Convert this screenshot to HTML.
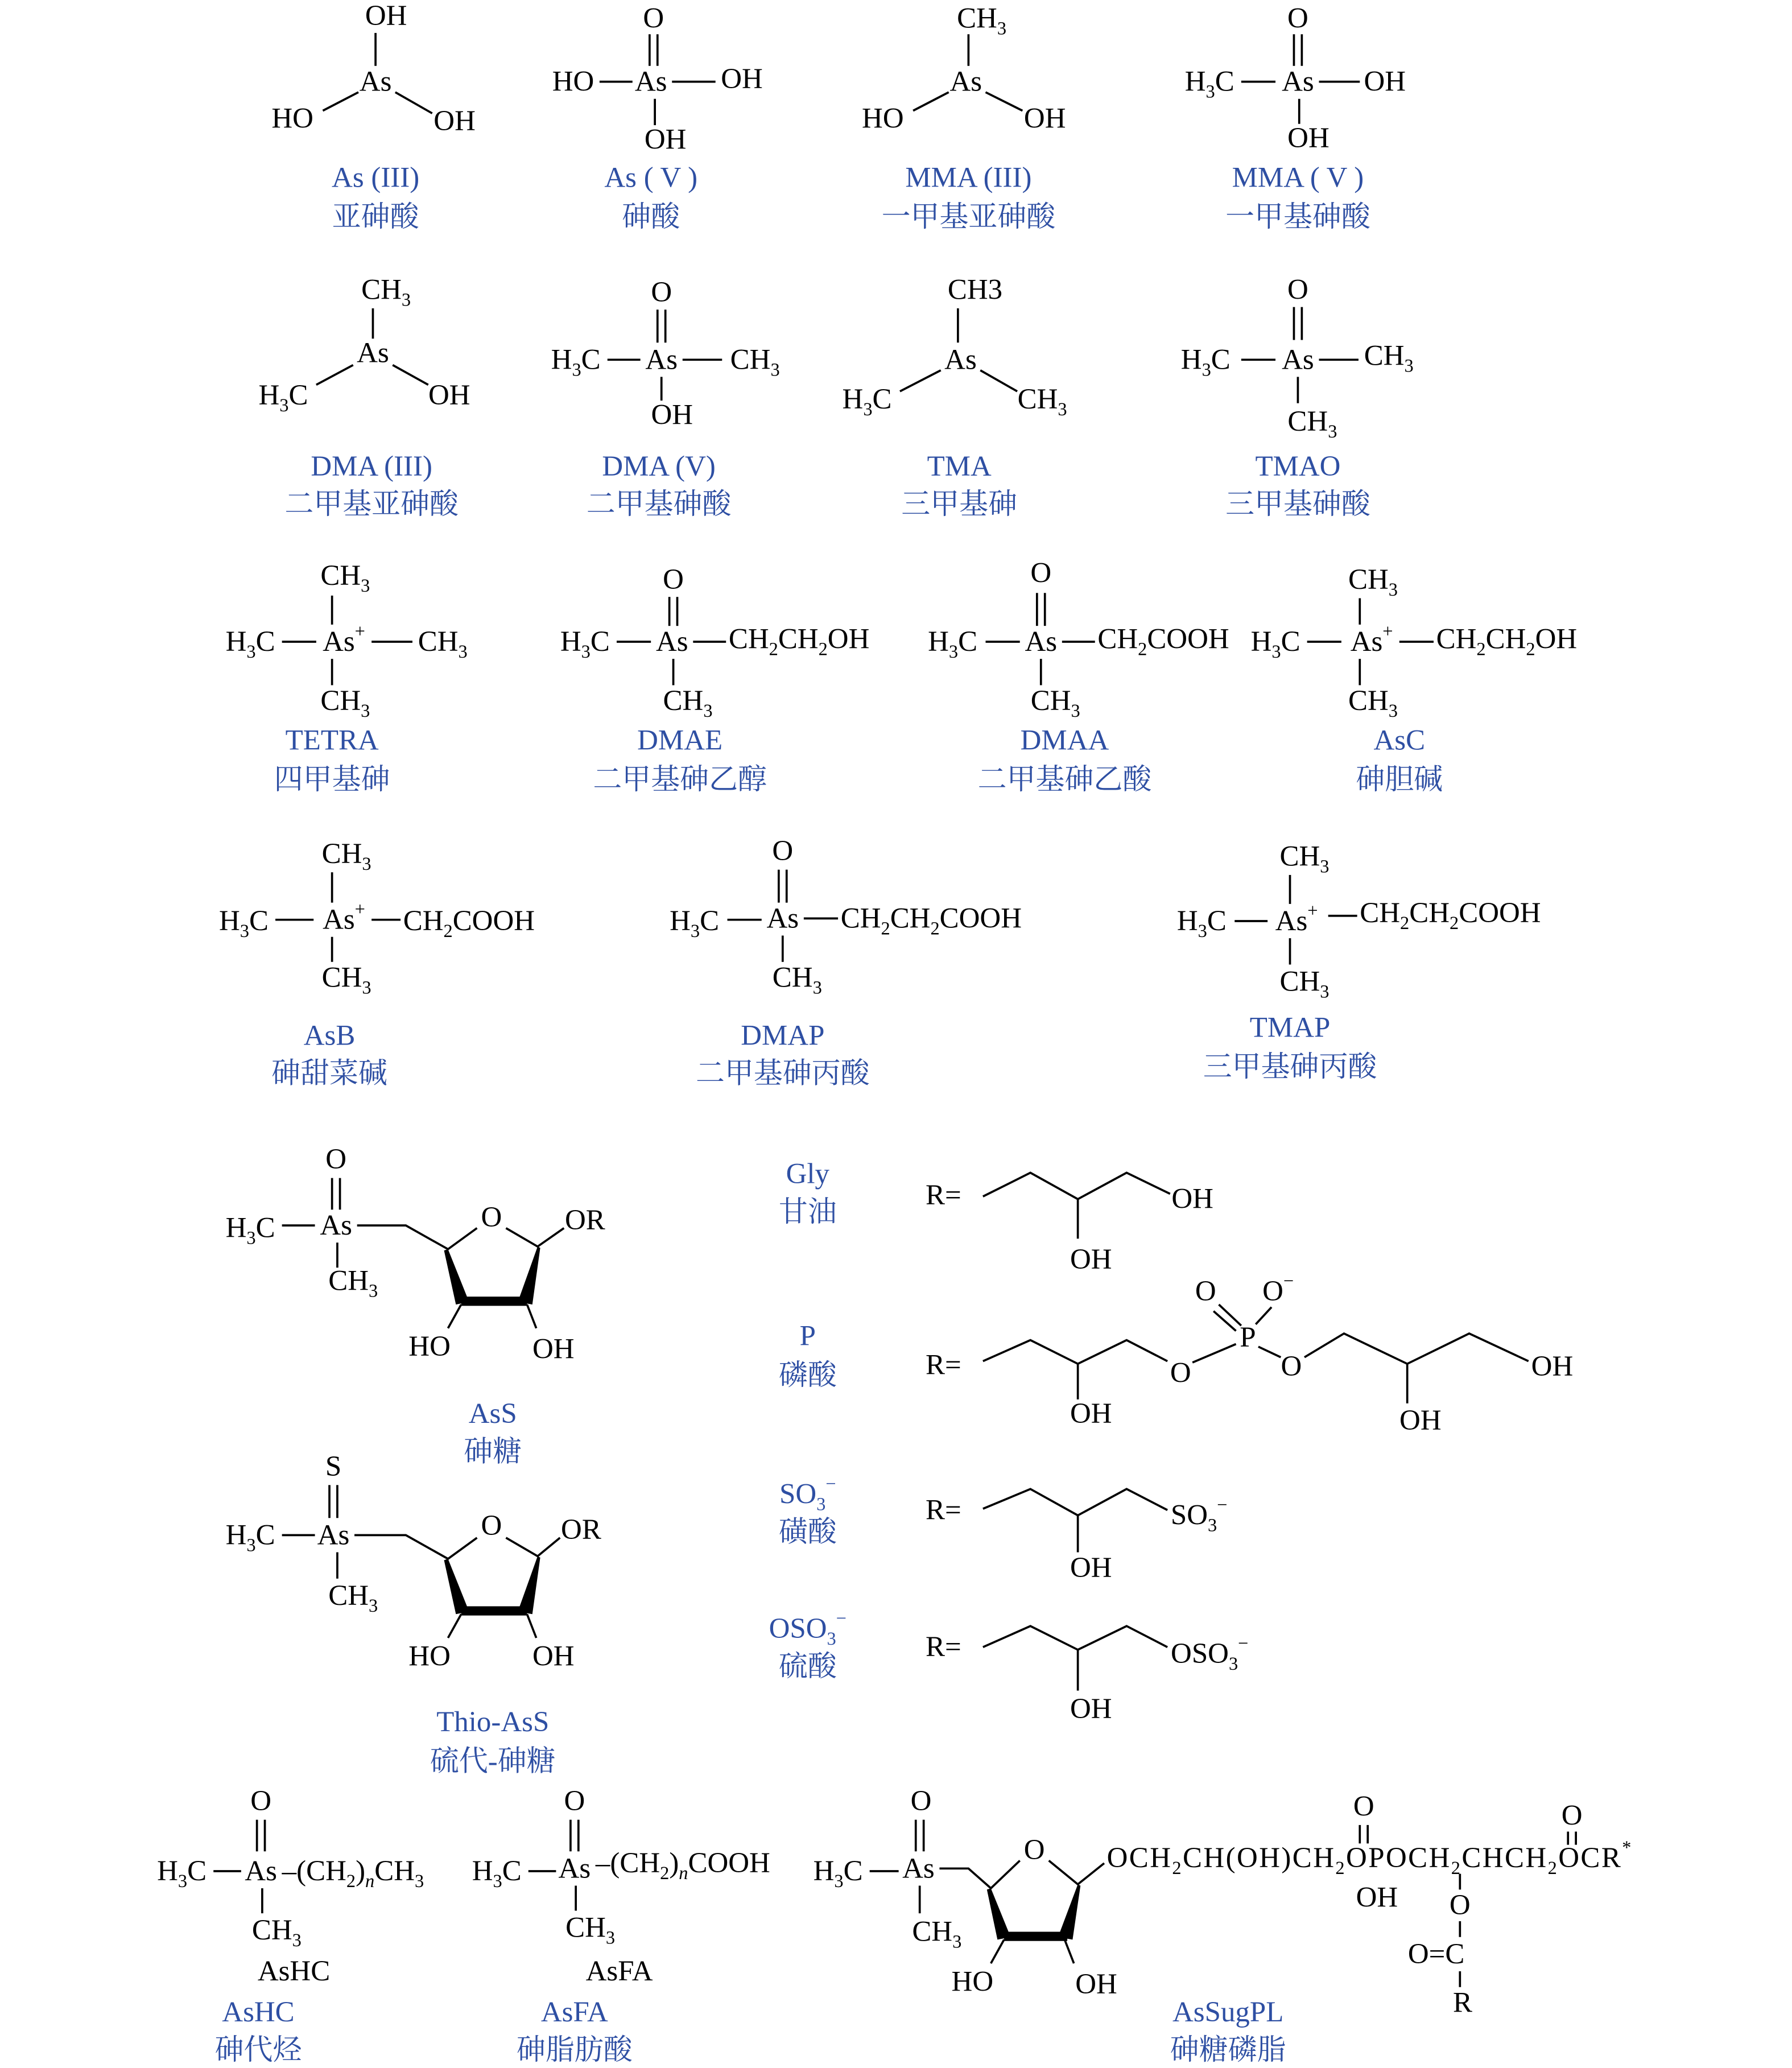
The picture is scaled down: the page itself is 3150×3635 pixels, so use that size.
<!DOCTYPE html>
<html><head><meta charset="utf-8"><style>
html,body{margin:0;padding:0;background:#fff}
svg{display:block}
text{font-family:"Liberation Serif","Noto Serif CJK SC",serif;font-size:22px;fill:#000;dominant-baseline:central;text-anchor:middle}
.b{fill:#2e4fa3}
.l{text-anchor:start}
line,polyline{stroke:#000;stroke-width:1.6;fill:none}
</style></head><body>
<svg width="3150" height="3635" viewBox="0 0 1360 1569.4" preserveAspectRatio="none" xmlns="http://www.w3.org/2000/svg">
<!-- Row 1 -->
<text x="293" y="12">OH</text><line x1="285" y1="25" x2="285" y2="50"/><text x="285" y="62">As</text>
<text x="222" y="90">HO</text><text x="345" y="92">OH</text>
<line x1="272" y1="70" x2="245" y2="84"/><line x1="300" y1="70" x2="328" y2="86"/>
<text class="b" x="285" y="135">As (III)</text><text class="b" x="285" y="165">亚砷酸</text>

<text x="496" y="14">O</text><line x1="493" y1="26" x2="493" y2="50"/><line x1="499" y1="26" x2="499" y2="50"/>
<text x="435" y="62">HO</text><line x1="455" y1="62" x2="480" y2="62"/><text x="494" y="62">As</text>
<line x1="510" y1="62" x2="543" y2="62"/><text x="563" y="60">OH</text>
<line x1="497" y1="75" x2="497" y2="95"/><text x="505" y="106">OH</text>
<text class="b" x="494" y="135">As ( V )</text><text class="b" x="494" y="165">砷酸</text>

<text x="745" y="14">CH<tspan baseline-shift="sub" font-size="14">3</tspan></text><line x1="735" y1="26" x2="735" y2="50"/><text x="733" y="62">As</text>
<text x="670" y="90">HO</text><text x="793" y="90">OH</text>
<line x1="720" y1="70" x2="693" y2="84"/><line x1="748" y1="70" x2="776" y2="84"/>
<text class="b" x="735" y="135">MMA (III)</text><text class="b" x="735" y="165">一甲基亚砷酸</text>

<text x="985" y="14">O</text><line x1="982" y1="26" x2="982" y2="50"/><line x1="988" y1="26" x2="988" y2="50"/>
<text x="918" y="62">H<tspan baseline-shift="sub" font-size="14">3</tspan>C</text><line x1="942" y1="62" x2="968" y2="62"/><text x="985" y="62">As</text>
<line x1="1001" y1="62" x2="1032" y2="62"/><text x="1051" y="62">OH</text>
<line x1="986" y1="75" x2="986" y2="94"/><text x="993" y="105">OH</text>
<text class="b" x="985" y="135">MMA ( V )</text><text class="b" x="985" y="165">一甲基砷酸</text>

<!-- Row 2 -->
<text x="293" y="220">CH<tspan baseline-shift="sub" font-size="14">3</tspan></text><line x1="283" y1="234" x2="283" y2="257"/><text x="283" y="268">As</text>
<text x="215" y="300">H<tspan baseline-shift="sub" font-size="14">3</tspan>C</text><text x="341" y="300">OH</text>
<line x1="268" y1="277" x2="240" y2="292"/><line x1="298" y1="277" x2="325" y2="292"/>
<text class="b" x="282" y="354">DMA (III)</text><text class="b" x="282" y="383">二甲基亚砷酸</text>

<text x="502" y="222">O</text><line x1="499" y1="235" x2="499" y2="260"/><line x1="505" y1="235" x2="505" y2="260"/>
<text x="437" y="273">H<tspan baseline-shift="sub" font-size="14">3</tspan>C</text><line x1="461" y1="273" x2="486" y2="273"/><text x="502" y="273">As</text>
<line x1="518" y1="273" x2="548" y2="273"/><text x="573" y="273">CH<tspan baseline-shift="sub" font-size="14">3</tspan></text>
<line x1="502" y1="286" x2="502" y2="304"/><text x="510" y="315">OH</text>
<text class="b" x="500" y="354">DMA (V)</text><text class="b" x="500" y="383">二甲基砷酸</text>

<text x="740" y="220">CH3</text><line x1="727" y1="234" x2="727" y2="260"/><text x="729" y="273">As</text>
<text x="658" y="303">H<tspan baseline-shift="sub" font-size="14">3</tspan>C</text><text x="791" y="303">CH<tspan baseline-shift="sub" font-size="14">3</tspan></text>
<line x1="714" y1="281" x2="683" y2="297"/><line x1="744" y1="281" x2="772" y2="297"/>
<text class="b" x="728" y="354">TMA</text><text class="b" x="728" y="383">三甲基砷</text>

<text x="985" y="220">O</text><line x1="982" y1="233" x2="982" y2="258"/><line x1="988" y1="233" x2="988" y2="258"/>
<text x="915" y="273">H<tspan baseline-shift="sub" font-size="14">3</tspan>C</text><line x1="942" y1="273" x2="968" y2="273"/><text x="985" y="273">As</text>
<line x1="1001" y1="273" x2="1031" y2="273"/><text x="1054" y="270">CH<tspan baseline-shift="sub" font-size="14">3</tspan></text>
<line x1="985" y1="286" x2="985" y2="306"/><text x="996" y="320">CH<tspan baseline-shift="sub" font-size="14">3</tspan></text>
<text class="b" x="985" y="354">TMAO</text><text class="b" x="985" y="383">三甲基砷酸</text>

<!-- Row 3 -->
<text x="262" y="437">CH<tspan baseline-shift="sub" font-size="14">3</tspan></text><line x1="252" y1="452" x2="252" y2="474"/>
<text x="190" y="487">H<tspan baseline-shift="sub" font-size="14">3</tspan>C</text><line x1="214" y1="487" x2="240" y2="487"/>
<text x="261" y="487">As<tspan baseline-shift="super" font-size="14">+</tspan></text><line x1="282" y1="487" x2="313" y2="487"/>
<text x="336" y="487">CH<tspan baseline-shift="sub" font-size="14">3</tspan></text>
<line x1="252" y1="500" x2="252" y2="520"/><text x="262" y="532">CH<tspan baseline-shift="sub" font-size="14">3</tspan></text>
<text class="b" x="252" y="562">TETRA</text><text class="b" x="252" y="592">四甲基砷</text>

<text x="511" y="440">O</text><line x1="508" y1="453" x2="508" y2="475"/><line x1="514" y1="453" x2="514" y2="475"/>
<text x="444" y="487">H<tspan baseline-shift="sub" font-size="14">3</tspan>C</text><line x1="468" y1="487" x2="494" y2="487"/><text x="510" y="487">As</text>
<line x1="526" y1="487" x2="551" y2="487"/><text class="l" x="553" y="485">CH<tspan baseline-shift="sub" font-size="14">2</tspan>CH<tspan baseline-shift="sub" font-size="14">2</tspan>OH</text>
<line x1="511" y1="500" x2="511" y2="520"/><text x="522" y="532">CH<tspan baseline-shift="sub" font-size="14">3</tspan></text>
<text class="b" x="516" y="562">DMAE</text><text class="b" x="516" y="592">二甲基砷乙醇</text>

<text x="790" y="435">O</text><line x1="787" y1="450" x2="787" y2="475"/><line x1="793" y1="450" x2="793" y2="475"/>
<text x="723" y="487">H<tspan baseline-shift="sub" font-size="14">3</tspan>C</text><line x1="748" y1="487" x2="774" y2="487"/><text x="790" y="487">As</text>
<line x1="806" y1="487" x2="831" y2="487"/><text class="l" x="833" y="485">CH<tspan baseline-shift="sub" font-size="14">2</tspan>COOH</text>
<line x1="790" y1="500" x2="790" y2="520"/><text x="801" y="532">CH<tspan baseline-shift="sub" font-size="14">3</tspan></text>
<text class="b" x="808" y="562">DMAA</text><text class="b" x="808" y="592">二甲基砷乙酸</text>

<text x="1042" y="440">CH<tspan baseline-shift="sub" font-size="14">3</tspan></text><line x1="1032" y1="454" x2="1032" y2="474"/>
<text x="968" y="487">H<tspan baseline-shift="sub" font-size="14">3</tspan>C</text><line x1="992" y1="487" x2="1018" y2="487"/>
<text x="1041" y="487">As<tspan baseline-shift="super" font-size="14">+</tspan></text><line x1="1062" y1="487" x2="1088" y2="487"/>
<text class="l" x="1090" y="485">CH<tspan baseline-shift="sub" font-size="14">2</tspan>CH<tspan baseline-shift="sub" font-size="14">2</tspan>OH</text>
<line x1="1032" y1="500" x2="1032" y2="520"/><text x="1042" y="532">CH<tspan baseline-shift="sub" font-size="14">3</tspan></text>
<text class="b" x="1062" y="562">AsC</text><text class="b" x="1062" y="592">砷胆碱</text>

<!-- Row 4 -->
<text x="263" y="648">CH<tspan baseline-shift="sub" font-size="14">3</tspan></text><line x1="252" y1="662" x2="252" y2="685"/>
<text x="185" y="699">H<tspan baseline-shift="sub" font-size="14">3</tspan>C</text><line x1="209" y1="698" x2="238" y2="698"/>
<text x="261" y="698">As<tspan baseline-shift="super" font-size="14">+</tspan></text><line x1="282" y1="698" x2="304" y2="698"/>
<text class="l" x="306" y="699">CH<tspan baseline-shift="sub" font-size="14">2</tspan>COOH</text>
<line x1="252" y1="711" x2="252" y2="730"/><text x="263" y="742">CH<tspan baseline-shift="sub" font-size="14">3</tspan></text>
<text class="b" x="250" y="786">AsB</text><text class="b" x="250" y="815">砷甜菜碱</text>

<text x="594" y="646">O</text><line x1="591" y1="660" x2="591" y2="685"/><line x1="597" y1="660" x2="597" y2="685"/>
<text x="527" y="699">H<tspan baseline-shift="sub" font-size="14">3</tspan>C</text><line x1="552" y1="698" x2="578" y2="698"/><text x="594" y="697">As</text>
<line x1="610" y1="697" x2="636" y2="697"/><text class="l" x="638" y="697">CH<tspan baseline-shift="sub" font-size="14">2</tspan>CH<tspan baseline-shift="sub" font-size="14">2</tspan>COOH</text>
<line x1="594" y1="710" x2="594" y2="730"/><text x="605" y="742">CH<tspan baseline-shift="sub" font-size="14">3</tspan></text>
<text class="b" x="594" y="786">DMAP</text><text class="b" x="594" y="815">二甲基砷丙酸</text>

<text x="990" y="650">CH<tspan baseline-shift="sub" font-size="14">3</tspan></text><line x1="979" y1="664" x2="979" y2="686"/>
<text x="912" y="699">H<tspan baseline-shift="sub" font-size="14">3</tspan>C</text><line x1="937" y1="699" x2="962" y2="699"/>
<text x="984" y="699">As<tspan baseline-shift="super" font-size="14">+</tspan></text><line x1="1008" y1="695" x2="1030" y2="695"/>
<text class="l" x="1032" y="693">CH<tspan baseline-shift="sub" font-size="14">2</tspan>CH<tspan baseline-shift="sub" font-size="14">2</tspan>COOH</text>
<line x1="979" y1="712" x2="979" y2="732"/><text x="990" y="745">CH<tspan baseline-shift="sub" font-size="14">3</tspan></text>
<text class="b" x="979" y="780">TMAP</text><text class="b" x="979" y="810">三甲基砷丙酸</text>

<!-- AsS and Thio-AsS -->
<g>
<text x="255" y="880">O</text><line x1="252" y1="894" x2="252" y2="918"/><line x1="258" y1="894" x2="258" y2="918"/>
<text x="190" y="932">H<tspan baseline-shift="sub" font-size="14">3</tspan>C</text><line x1="214" y1="930" x2="239" y2="930"/><text x="255" y="930">As</text>
<line x1="256" y1="943" x2="256" y2="962"/><text x="268" y="972">CH<tspan baseline-shift="sub" font-size="14">3</tspan></text>
<polyline points="271,930 308,930 340,948 362,932"/><text x="373" y="924">O</text>
<polyline points="384,932 408,946 428,932"/><text x="444" y="926">OR</text>
<polygon points="340,948 337,949 346,990 356,988" fill="#000"/>
<polygon points="408,946 410,947 404,990 393,988" fill="#000"/>
<rect x="350" y="984" width="50" height="7" fill="#000"/>
<line x1="350" y1="990" x2="340" y2="1008"/><line x1="400" y1="990" x2="407" y2="1008"/>
<text x="326" y="1022">HO</text><text x="420" y="1024">OH</text>
</g>
<text class="b" x="374" y="1073">AsS</text><text class="b" x="374" y="1102">砷糖</text>

<g transform="translate(0,1235)">
<text x="253" y="-122">S</text><line x1="250" y1="-108" x2="250" y2="-83"/><line x1="256" y1="-108" x2="256" y2="-83"/>
<text x="190" y="-70">H<tspan baseline-shift="sub" font-size="14">3</tspan>C</text><line x1="214" y1="-70" x2="239" y2="-70"/><text x="253" y="-70">As</text>
<line x1="256" y1="-57" x2="256" y2="-37"/><text x="268" y="-24">CH<tspan baseline-shift="sub" font-size="14">3</tspan></text>
<polyline points="269,-70 308,-70 340,-52 362,-68"/><text x="373" y="-77">O</text>
<polyline points="384,-68 408,-54 425,-68"/><text x="441" y="-74">OR</text>
<polygon points="340,-52 337,-51 346,-10 356,-12" fill="#000"/>
<polygon points="408,-54 410,-53 404,-10 393,-12" fill="#000"/>
<rect x="350" y="-16" width="50" height="7" fill="#000"/>
<line x1="350" y1="-10" x2="340" y2="8"/><line x1="400" y1="-10" x2="407" y2="8"/>
<text x="326" y="22">HO</text><text x="420" y="22">OH</text>
</g>
<text class="b" x="374" y="1307">Thio-AsS</text><text class="b" x="374" y="1337">硫代-砷糖</text>

<!-- R groups -->
<text class="b" x="613" y="891">Gly</text><text class="b" x="613" y="920">甘油</text>
<text class="b" x="613" y="1014">P</text><text class="b" x="613" y="1044">磷酸</text>
<text class="b" x="613" y="1134">SO<tspan baseline-shift="sub" font-size="14">3</tspan><tspan baseline-shift="super" font-size="14">−</tspan></text><text class="b" x="613" y="1163">磺酸</text>
<text class="b" x="613" y="1236">OSO<tspan baseline-shift="sub" font-size="14">3</tspan><tspan baseline-shift="super" font-size="14">−</tspan></text><text class="b" x="613" y="1265">硫酸</text>

<text x="716" y="907">R=</text>
<polyline points="746,908 782,890 818,910 855,890 888,906"/><line x1="818" y1="910" x2="818" y2="940"/>
<text x="905" y="910">OH</text><text x="828" y="956">OH</text>

<text x="716" y="1036">R=</text>
<polyline points="746,1033 782,1017 818,1035 855,1017 886,1033"/><line x1="818" y1="1035" x2="818" y2="1062"/>
<text x="828" y="1073">OH</text><text x="896" y="1042">O</text>
<line x1="905" y1="1034" x2="938" y2="1020"/><text x="947" y="1015">P</text>
<line x1="925" y1="990" x2="942" y2="1006"/><line x1="921" y1="995" x2="938" y2="1010"/>
<text x="915" y="980">O</text><text x="970" y="980">O<tspan baseline-shift="super" font-size="14">−</tspan></text>
<line x1="953" y1="1005" x2="965" y2="992"/><line x1="955" y1="1022" x2="972" y2="1030"/>
<text x="980" y="1037">O</text>
<polyline points="990,1030 1020,1012 1068,1035 1115,1012 1160,1033"/><line x1="1068" y1="1035" x2="1068" y2="1065"/>
<text x="1178" y="1037">OH</text><text x="1078" y="1078">OH</text>

<text x="716" y="1146">R=</text>
<polyline points="746,1145 782,1130 818,1150 855,1130 886,1146"/><line x1="818" y1="1150" x2="818" y2="1178"/>
<text x="910" y="1150">SO<tspan baseline-shift="sub" font-size="14">3</tspan><tspan baseline-shift="super" font-size="14">−</tspan></text><text x="828" y="1190">OH</text>

<text x="716" y="1250">R=</text>
<polyline points="746,1250 782,1234 818,1252 855,1234 886,1250"/><line x1="818" y1="1252" x2="818" y2="1283"/>
<text x="918" y="1255">OSO<tspan baseline-shift="sub" font-size="14">3</tspan><tspan baseline-shift="super" font-size="14">−</tspan></text><text x="828" y="1297">OH</text>

<!-- Bottom row -->
<text x="198" y="1367">O</text><line x1="195" y1="1381" x2="195" y2="1405"/><line x1="201" y1="1381" x2="201" y2="1405"/>
<text x="138" y="1420">H<tspan baseline-shift="sub" font-size="14">3</tspan>C</text><line x1="162" y1="1420" x2="183" y2="1420"/><text x="198" y="1420">As</text>
<text class="l" x="214" y="1420">–(CH<tspan baseline-shift="sub" font-size="14">2</tspan>)<tspan baseline-shift="sub" font-size="14" font-style="italic">n</tspan>CH<tspan baseline-shift="sub" font-size="14">3</tspan></text>
<line x1="199" y1="1433" x2="199" y2="1452"/><text x="210" y="1465">CH<tspan baseline-shift="sub" font-size="14">3</tspan></text>
<text x="223" y="1496">AsHC</text><text class="b" x="196" y="1527">AsHC</text><text class="b" x="196" y="1556">砷代烃</text>

<text x="436" y="1367">O</text><line x1="433" y1="1381" x2="433" y2="1405"/><line x1="439" y1="1381" x2="439" y2="1405"/>
<text x="377" y="1420">H<tspan baseline-shift="sub" font-size="14">3</tspan>C</text><line x1="401" y1="1420" x2="422" y2="1420"/><text x="436" y="1418">As</text>
<text class="l" x="452" y="1414">–(CH<tspan baseline-shift="sub" font-size="14">2</tspan>)<tspan baseline-shift="sub" font-size="14" font-style="italic">n</tspan>COOH</text>
<line x1="437" y1="1431" x2="437" y2="1450"/><text x="448" y="1463">CH<tspan baseline-shift="sub" font-size="14">3</tspan></text>
<text x="470" y="1496">AsFA</text><text class="b" x="436" y="1527">AsFA</text><text class="b" x="436" y="1556">砷脂肪酸</text>

<text x="699" y="1367">O</text><line x1="695" y1="1381" x2="695" y2="1405"/><line x1="701" y1="1381" x2="701" y2="1405"/>
<text x="636" y="1420">H<tspan baseline-shift="sub" font-size="14">3</tspan>C</text><line x1="660" y1="1420" x2="682" y2="1420"/><text x="697" y="1418">As</text>
<line x1="698" y1="1431" x2="698" y2="1452"/><text x="711" y="1466">CH<tspan baseline-shift="sub" font-size="14">3</tspan></text>
<polyline points="713,1418 735,1418 752,1433 774,1412"/><text x="785" y="1404">O</text>
<polyline points="796,1412 818,1430 838,1414"/>
<polygon points="752,1433 749,1434 757,1472 767,1470" fill="#000"/>
<polygon points="818,1430 820,1431 814,1472 803,1470" fill="#000"/>
<rect x="762" y="1466" width="48" height="7" fill="#000"/>
<line x1="762" y1="1472" x2="752" y2="1490"/><line x1="808" y1="1472" x2="815" y2="1490"/>
<text x="738" y="1504">HO</text><text x="832" y="1506">OH</text>
<text class="l" x="840" y="1410" textLength="398" lengthAdjust="spacing">OCH<tspan baseline-shift="sub" font-size="14">2</tspan>CH(OH)CH<tspan baseline-shift="sub" font-size="14">2</tspan>OPOCH<tspan baseline-shift="sub" font-size="14">2</tspan>CHCH<tspan baseline-shift="sub" font-size="14">2</tspan>OCR<tspan baseline-shift="super" font-size="14">*</tspan></text>
<text x="1035" y="1371">O</text><line x1="1032" y1="1385" x2="1032" y2="1399"/><line x1="1038" y1="1385" x2="1038" y2="1399"/>
<text x="1045" y="1440">OH</text>
<text x="1193" y="1378">O</text><line x1="1190" y1="1390" x2="1190" y2="1400"/><line x1="1196" y1="1390" x2="1196" y2="1400"/>
<line x1="1108" y1="1422" x2="1108" y2="1434"/><text x="1108" y="1446">O</text>
<line x1="1108" y1="1458" x2="1108" y2="1470"/><text x="1090" y="1483">O=C</text>
<line x1="1108" y1="1496" x2="1108" y2="1508"/><text x="1110" y="1520">R</text>
<text class="b" x="932" y="1527">AsSugPL</text><text class="b" x="932" y="1556">砷糖磷脂</text>
</svg>
</body></html>
